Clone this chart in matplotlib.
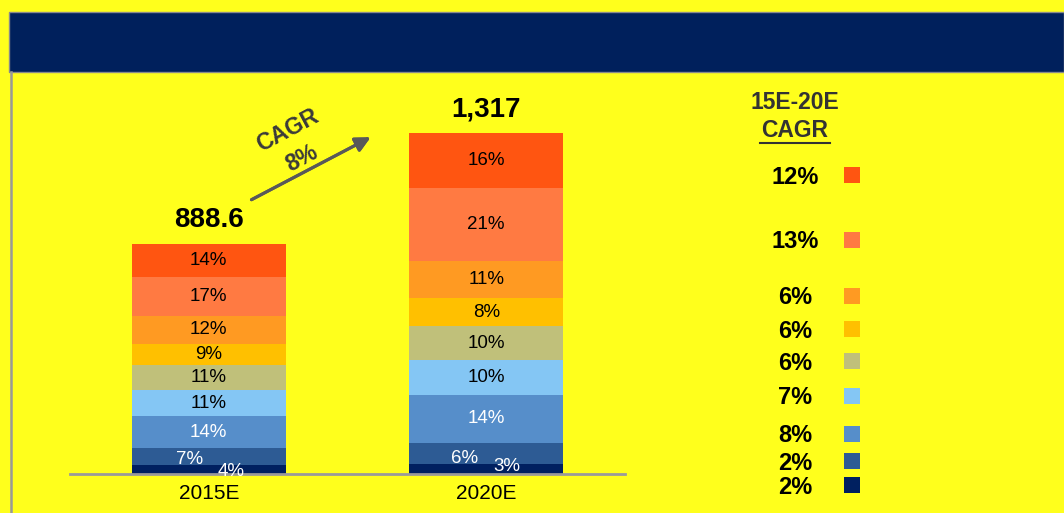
import matplotlib
matplotlib.use("Agg")
import matplotlib.pyplot as plt
from matplotlib.patches import Rectangle
from matplotlib.lines import Line2D

plt.rcParams['font.family'] = ['Liberation Sans', 'DejaVu Sans']

# ---------------- data ----------------
categories = ["2015E", "2020E"]
totals = [888.6, 1317]
total_labels = ["888.6", "1,317"]
# shares per segment, bottom -> top
shares_2015 = [4, 7, 14, 11, 11, 9, 12, 17, 14]
shares_2020 = [3, 6, 14, 10, 10, 8, 11, 21, 16]
# 15E-20E CAGR per segment, bottom -> top
segment_cagr = [2, 2, 8, 7, 6, 6, 6, 13, 12]
overall_cagr = "8%"

# ---------------- styles ----------------
colors = ["#002060", "#2D5B94", "#568ECA", "#84C6F4", "#C0C07A",
          "#FFC000", "#FF9A22", "#FF7A42", "#FF5511"]
text_colors = ["white", "white", "white", "black", "black",
               "black", "black", "black", "black"]
# label offsets (data x, points y) for the two thin bottom segments
label_dx = [[0.08, -0.07, 0, 0, 0, 0, 0, 0, 0],
            [0.073, -0.079, 0, 0, 0, 0, 0, 0, 0]]
label_dy = [[-1.2, -2, 0, 0, 0, 0, 0, 0, 0],
            [1.5, -3.5, 0, 0, 0, 0, 0, 0, 0]]

W, H = 1064, 513
BG = "#FFFF1C"
fig = plt.figure(figsize=(W / 100, H / 100), dpi=100, facecolor=BG)


def fx(px):
    return px / W


def fy(py):
    return 1 - py / H


# header band
fig.patches.append(Rectangle((fx(9), fy(72)), fx(W) - fx(9), fy(12) - fy(72),
                             transform=fig.transFigure, facecolor="#00205C",
                             edgecolor="#8A8A8A", linewidth=1.0, zorder=1))
fig.lines.append(Line2D([fx(11), fx(11)], [fy(72), 0], transform=fig.transFigure,
                        color="#999999", linewidth=1.8))

# bar axes
ax_left, ax_right = 70, 625
base_px = 474
ymax = 1600
px_per_unit = (474 - 244) / 888.6
ax_h = ymax * px_per_unit
ax = fig.add_axes([fx(ax_left), fy(base_px), fx(ax_right) - fx(ax_left), ax_h / H])
ax.set_facecolor("none")
ax.set_xlim(-0.5, 1.5)
ax.set_ylim(0, ymax)
for s in ["left", "right", "top"]:
    ax.spines[s].set_visible(False)
ax.spines["bottom"].set_color("#9A9A9A")
ax.spines["bottom"].set_linewidth(2)
ax.set_yticks([])
ax.set_xticks([0, 1])
ax.set_xticklabels(categories, fontsize=15)
ax.tick_params(axis="x", length=0, pad=7)

bar_w = 0.556
all_shares = [shares_2015, shares_2020]
for i, (tot, shares) in enumerate(zip(totals, all_shares)):
    ssum = sum(shares)
    bottom = 0
    for j, sh in enumerate(shares):
        h = tot * sh / ssum
        ax.bar(i, h, bottom=bottom, width=bar_w, color=colors[j],
               edgecolor="none", zorder=2)
        ax.annotate(f"{sh}%", (i + label_dx[i][j], bottom + h / 2),
                    xytext=(0, label_dy[i][j]), textcoords="offset points",
                    ha="center", va="center", fontsize=13.5,
                    color=text_colors[j], zorder=3)
        bottom += h
    ax.annotate(total_labels[i], (i, tot), xytext=(0, 17),
                textcoords="offset points", ha="center", va="center",
                fontsize=20, fontweight="bold", color="black")

# CAGR arrow
fig.add_artist(plt.annotate("", xy=(fx(373), fy(136)), xytext=(fx(249), fy(201)),
                            xycoords=fig.transFigure, textcoords=fig.transFigure,
                            arrowprops=dict(arrowstyle="-|>,head_length=0.9,head_width=0.45",
                                            color="#595959", lw=2.2)))
fig.text(fx(288), fy(131), "CAGR", rotation=28, ha="center", va="center",
         fontsize=16.5, fontweight="bold", color="#3A3A3A", rotation_mode="anchor")
fig.text(fx(302), fy(158), overall_cagr, rotation=28, ha="center", va="center",
         fontsize=16.5, fontweight="bold", color="#3A3A3A", rotation_mode="anchor")

# right-hand CAGR column
fig.text(fx(795), fy(103), "15E-20E", ha="center", va="center",
         fontsize=16.5, fontweight="bold", color="#333333")
fig.text(fx(795), fy(131), "CAGR", ha="center", va="center",
         fontsize=16.5, fontweight="bold", color="#333333")
fig.lines.append(Line2D([fx(760), fx(830)], [fy(143), fy(143)],
                        transform=fig.transFigure, color="#333333", linewidth=1.5))

# row positions (top -> bottom), pixel y
row_y = [177, 242, 298, 331, 363, 398, 436, 463, 487]
for k, yy in enumerate(row_y):
    j = len(segment_cagr) - 1 - k
    fig.text(fx(795), fy(yy), f"{segment_cagr[j]}%", ha="center", va="center",
             fontsize=17, fontweight="bold", color="black")
    fig.patches.append(Rectangle((fx(844), fy(yy - 2 + 8)), fx(16), 16 / H,
                                 transform=fig.transFigure, facecolor=colors[j],
                                 edgecolor="none"))

fig.savefig("out.png", dpi=100, facecolor=BG)
